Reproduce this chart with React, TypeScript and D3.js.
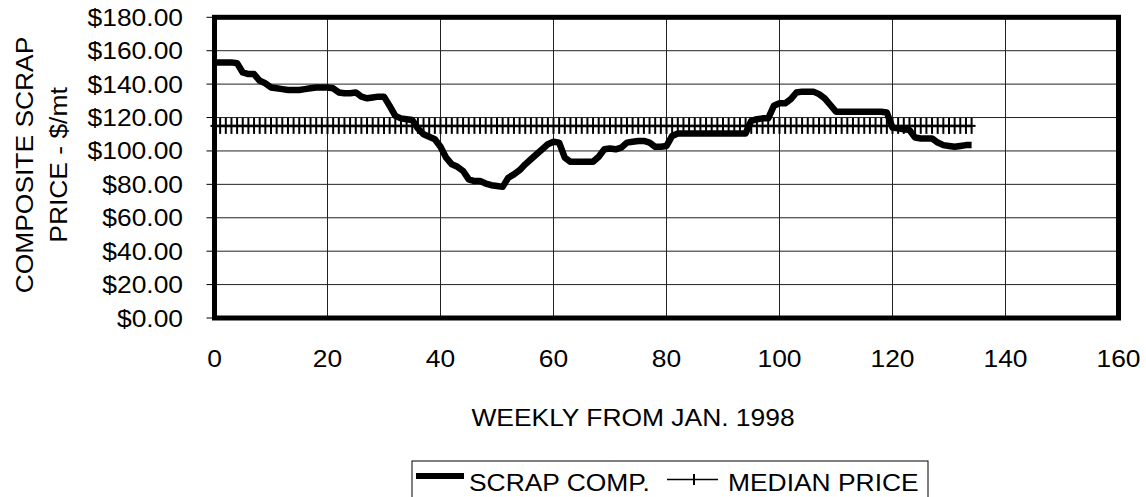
import React from "react";
import * as d3 from "d3";

// Weekly composite scrap price ($/mt), week 0 = Jan 1998
const scrapComp: number[] = [
  153, 153, 153, 153, 152.5, 147, 146, 146, 142, 140.5,
  138, 137.5, 137, 136.5, 136.5, 136.5, 137, 137.5, 138, 138,
  138, 137.5, 135, 134.5, 134.5, 135, 132.5, 131.5, 132, 132.5,
  132.5, 127, 121, 119.5, 119, 118.5, 113.5, 110, 108.5, 107,
  102.5, 96, 92, 90.5, 88, 83, 82, 82, 80.5, 79.5,
  79, 78.5, 84, 86, 88.5, 92, 95, 98, 101, 104,
  105.5, 105, 96, 93.5, 93.5, 93.5, 93.5, 93.5, 96.5, 101,
  101.5, 101, 102, 105, 105.5, 106, 106, 105, 102.5, 102.5,
  103, 109, 110.5, 110.5, 110.5, 110.5, 110.5, 110.5, 110.5, 110.5,
  110.5, 110.5, 110.5, 110.5, 110.5, 118, 119, 119.5, 119.5, 127,
  128.5, 128.5, 131, 135, 135.5, 135.5, 135.5, 134, 131.5, 127.5,
  123.5, 123.5, 123.5, 123.5, 123.5, 123.5, 123.5, 123.5, 123.5, 123,
  114, 113.5, 113, 112.5, 108, 107.5, 107.5, 107.5, 105, 103.5,
  103, 102.5, 103, 103.5, 103.5,
];
const medianPrice = 115;

const xTicks = [0, 20, 40, 60, 80, 100, 120, 140, 160];
const yTicks = [0, 20, 40, 60, 80, 100, 120, 140, 160, 180];
const xTitle = "WEEKLY FROM JAN. 1998";
const yTitleLines = ["COMPOSITE SCRAP", "PRICE - $/mt"];
const legendLabels = ["SCRAP COMP.", "MEDIAN PRICE"];

const FONT = "Arial, 'Liberation Sans', Helvetica, sans-serif";
const FS = 24;
const SX = 1.1;

function T(props: {
  x: number;
  y: number;
  anchor?: "start" | "middle" | "end";
  rotate?: number;
  children: React.ReactNode;
}) {
  const { x, y, anchor = "start", rotate = 0, children } = props;
  return (
    <text
      transform={`translate(${x},${y}) rotate(${rotate}) scale(${SX},1)`}
      textAnchor={anchor}
      fontFamily={FONT}
      fontSize={FS}
      fill="#000"
    >
      {children}
    </text>
  );
}

export default function App() {
  const W = 1146;
  const H = 497;
  const x = d3.scaleLinear().domain([0, 160]).range([214.5, 1118.5]);
  const y = d3.scaleLinear().domain([0, 180]).range([318, 17.3]);
  const fmt = (v: number) => "$" + d3.format(".2f")(v);

  const scrapLine = d3
    .line<number>()
    .x((_, i) => x(i))
    .y((d) => y(d))(scrapComp) as string;

  const medianLine = d3
    .line<number>()
    .x((_, i) => x(i))
    .y(() => y(medianPrice))(scrapComp) as string;

  const x0 = x(0);
  const x1 = x(160);
  const yTop = y(180);
  const yBot = y(0);
  const ym = y(medianPrice);

  return (
    <svg
      width={W}
      height={H}
      style={{ position: "absolute", left: 0, top: 0, background: "#fff" }}
    >
      <rect x={0} y={0} width={W} height={H} fill="#fff" />
      {/* horizontal gridlines */}
      {yTicks.map((t) => (
        <line key={"hg" + t} x1={x0} x2={x1} y1={y(t)} y2={y(t)} stroke="#222" strokeWidth={1} />
      ))}
      {/* vertical gridlines */}
      {xTicks.map((t) => (
        <line key={"vg" + t} x1={x(t)} x2={x(t)} y1={yTop} y2={yBot} stroke="#222" strokeWidth={1} />
      ))}
      {/* y tick marks */}
      {yTicks.map((t) => (
        <line key={"yt" + t} x1={x0 - 8} x2={x0} y1={y(t)} y2={y(t)} stroke="#000" strokeWidth={1} />
      ))}
      {/* plot border */}
      <rect x={x0} y={yTop} width={x1 - x0} height={yBot - yTop} fill="none" stroke="#000" strokeWidth={5} />

      {/* median series */}
      <path d={medianLine} fill="none" stroke="#000" strokeWidth={2.5} />
      {scrapComp.map((_, i) => (
        <g key={"m" + i}>
          <line x1={x(i)} x2={x(i)} y1={ym - 8} y2={ym + 8} stroke="#000" strokeWidth={2} />
          <line x1={x(i) - 4} x2={x(i) + 4} y1={ym} y2={ym} stroke="#000" strokeWidth={2} />
        </g>
      ))}

      {/* scrap composite series */}
      <path d={scrapLine} fill="none" stroke="#000" strokeWidth={6.5} strokeLinejoin="round" strokeLinecap="butt" />

      {/* y tick labels */}
      {yTicks.map((t) => (
        <T key={"yl" + t} x={183} y={y(t) + 8.5} anchor="end">
          {fmt(t)}
        </T>
      ))}
      {/* x tick labels */}
      {xTicks.map((t) => (
        <T key={"xl" + t} x={x(t)} y={366.5} anchor="middle">
          {t}
        </T>
      ))}

      {/* axis titles */}
      <T x={633} y={425.5} anchor="middle">
        {xTitle}
      </T>
      <T x={33} y={165} anchor="middle" rotate={-90}>
        {yTitleLines[0]}
      </T>
      <T x={67} y={165} anchor="middle" rotate={-90}>
        {yTitleLines[1]}
      </T>

      {/* legend */}
      <rect x={412} y={461} width={516} height={50} fill="#fff" stroke="#000" strokeWidth={1} />
      <line x1={416} x2={464} y1={476} y2={476} stroke="#000" strokeWidth={6} />
      <T x={469} y={490.5}>
        {legendLabels[0]}
      </T>
      <line x1={667} x2={718} y1={479.5} y2={479.5} stroke="#000" strokeWidth={1.5} />
      <line x1={694} x2={694} y1={474} y2={485} stroke="#000" strokeWidth={2} />
      <T x={728} y={490.5}>
        {legendLabels[1]}
      </T>
    </svg>
  );
}
